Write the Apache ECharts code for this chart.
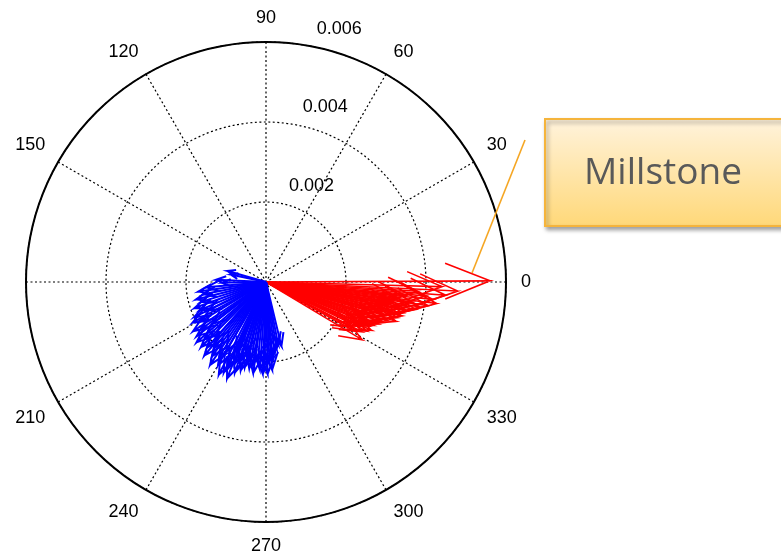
<!DOCTYPE html>
<html>
<head>
<meta charset="utf-8">
<script src="https://cdn.jsdelivr.net/npm/echarts@6/dist/echarts.min.js"></script>
<style>
  html, body { margin: 0; padding: 0; background: #ffffff; }
  #chart { width: 781px; height: 551px; }
</style>
</head>
<body>
<div id="chart"></div>
<script>
// ---- data (magnitude, direction in degrees) ----
const angleTicks = [0, 30, 60, 90, 120, 150, 210, 240, 270, 300, 330];
const radiusTicks = [0.002, 0.004, 0.006];
const calloutText = 'Millstone';

const redArrows = [
  [0.0056, 0.3], [0.0048, -2.7], [0.0045, -4.2], [0.0044, -1.5], [0.0042, -6.0],
  [0.0043, -7.2], [0.0040, -5.0], [0.0041, -8.3], [0.0039, -9.2], [0.0038, -10.4],
  [0.0037, -7.8], [0.0036, -11.5], [0.0036, -9.8], [0.0035, -12.8], [0.0035, -14.0],
  [0.0034, -11.0], [0.0034, -15.2], [0.0033, -13.5], [0.0034, -16.8], [0.0032, -17.6],
  [0.0031, -15.8], [0.0031, -19.0], [0.0030, -20.5], [0.0030, -18.2], [0.0029, -22.0],
  [0.0028, -23.2], [0.0029, -24.6], [0.0027, -21.3], [0.0028, -26.0], [0.0027, -27.4],
  [0.0026, -25.2], [0.0028, -31.0], [0.0025, -29.0], [0.0024, -28.0], [0.0033, -6.6],
  [0.0032, -9.0], [0.0030, -12.2], [0.0029, -14.6], [0.0027, -17.0], [0.0026, -19.8],
  [0.0038, -3.5], [0.0035, -5.6], [0.0025, -23.8], [0.0031, -10.0]
];

const blueArrows = [
  [0.0010, 164], [0.0009, 168], [0.00125, 177.5], [0.0011, 181], [0.0015, 185],
  [0.0017, 188], [0.0016, 191], [0.0018, 194], [0.0017, 197], [0.0019, 200],
  [0.0018, 203], [0.0020, 206], [0.0021, 209], [0.0019, 211], [0.0022, 214],
  [0.0020, 216], [0.0022, 218], [0.0023, 221], [0.0021, 223], [0.0023, 225],
  [0.0022, 228], [0.0024, 230], [0.0021, 232], [0.0023, 234], [0.0025, 236],
  [0.0022, 238], [0.0024, 240], [0.0026, 243], [0.0025, 245], [0.0023, 246],
  [0.0026, 248], [0.0022, 249], [0.0024, 251], [0.0021, 252], [0.0023, 254],
  [0.0022, 256], [0.0020, 257], [0.0022, 259], [0.0021, 261], [0.0023, 262],
  [0.0020, 264], [0.0022, 266], [0.0023, 268], [0.0021, 269], [0.0023, 271],
  [0.0020, 272.5], [0.0022, 274], [0.0019, 275], [0.0018, 277], [0.0017, 279],
  [0.0016, 281], [0.00165, 283.5], [0.0019, 228], [0.0017, 218], [0.0016, 206],
  [0.0020, 240], [0.0019, 247], [0.0018, 254]
];

// ---- rendering ----
const chart = echarts.init(document.getElementById('chart'), null, { renderer: 'canvas' });
const FONT = '"Liberation Sans", Arial, sans-serif';

function norm(d) { return d.map(p => [p[0], (p[1] + 360) % 360]); }

function arrowRenderer(color, width) {
  return function (params, api) {
    const m = api.value(0), a = api.value(1);
    const tip = api.coord([m, a]);
    const o = api.coord([0, a]);
    const vx = tip[0] - o[0], vy = tip[1] - o[1];
    const px = -vy, py = vx;
    const w1 = [o[0] + 0.8 * vx + 0.08 * px, o[1] + 0.8 * vy + 0.08 * py];
    const w2 = [o[0] + 0.8 * vx - 0.08 * px, o[1] + 0.8 * vy - 0.08 * py];
    return {
      type: 'polyline',
      shape: { points: [o, tip, w1, tip, w2] },
      style: { stroke: color, fill: null, lineWidth: width }
    };
  };
}

const option = {
  backgroundColor: '#ffffff',
  animation: false,
  polar: { center: [266, 282], radius: 240 },
  angleAxis: {
    type: 'value', min: 0, max: 360, interval: 30,
    startAngle: 0, clockwise: false,
    axisLine: { show: true, lineStyle: { color: '#000', width: 2 } },
    axisTick: { show: false },
    axisLabel: {
      show: true, margin: 15, color: '#000', fontSize: 18, fontFamily: FONT,
      formatter: v => (angleTicks.indexOf(v) >= 0 ? String(v) : '')
    },
    splitLine: { show: true, lineStyle: { color: '#000', width: 1.2, type: [2, 2.5] } }
  },
  radiusAxis: {
    type: 'value', min: 0, max: radiusTicks[radiusTicks.length - 1], interval: radiusTicks[0],
    axisLine: { show: false }, axisTick: { show: false }, axisLabel: { show: false },
    splitLine: { show: true, lineStyle: { color: '#000', width: 1.2, type: [2, 2.5] } }
  },
  series: [
    {
      type: 'custom', coordinateSystem: 'polar', silent: true, z: 3,
      data: norm(redArrows), renderItem: arrowRenderer('#ff0000', 1.6)
    },
    {
      type: 'custom', coordinateSystem: 'polar', silent: true, z: 3,
      data: norm(blueArrows), renderItem: arrowRenderer('#0000ff', 2)
    },
    {
      type: 'custom', coordinateSystem: 'polar', silent: true, z: 4,
      data: radiusTicks.map(r => [r, 80]),
      renderItem: function (params, api) {
        const p = api.coord([api.value(0), api.value(1)]);
        return {
          type: 'text', x: p[0] + 9, y: p[1] - 17,
          style: {
            text: api.value(0).toFixed(3), fill: '#000',
            font: '18px ' + FONT, align: 'left', verticalAlign: 'middle'
          }
        };
      }
    }
  ],
  graphic: [
    {
      type: 'rect', z: 10,
      shape: { x: 545, y: 119, width: 245, height: 107 },
      style: {
        fill: new echarts.graphic.LinearGradient(0, 0, 0, 1, [
          { offset: 0, color: '#FFF3DD' },
          { offset: 1, color: '#FFD878' }
        ]),
        stroke: '#F5B43C', lineWidth: 2,
        shadowBlur: 4, shadowColor: 'rgba(0,0,0,0.35)', shadowOffsetX: 2, shadowOffsetY: 3
      }
    },
    {
      type: 'text', z: 11, x: 663, y: 173,
      style: {
        text: calloutText, fill: '#595959', font: '37px "Open Sans", "Noto Sans", sans-serif',
        align: 'center', verticalAlign: 'middle'
      }
    },
    {
      type: 'line', z: 11,
      shape: { x1: 525, y1: 140, x2: 472, y2: 273 },
      style: { stroke: '#F5A623', lineWidth: 1.6 }
    }
  ]
};
chart.setOption(option);
</script>
</body>
</html>
